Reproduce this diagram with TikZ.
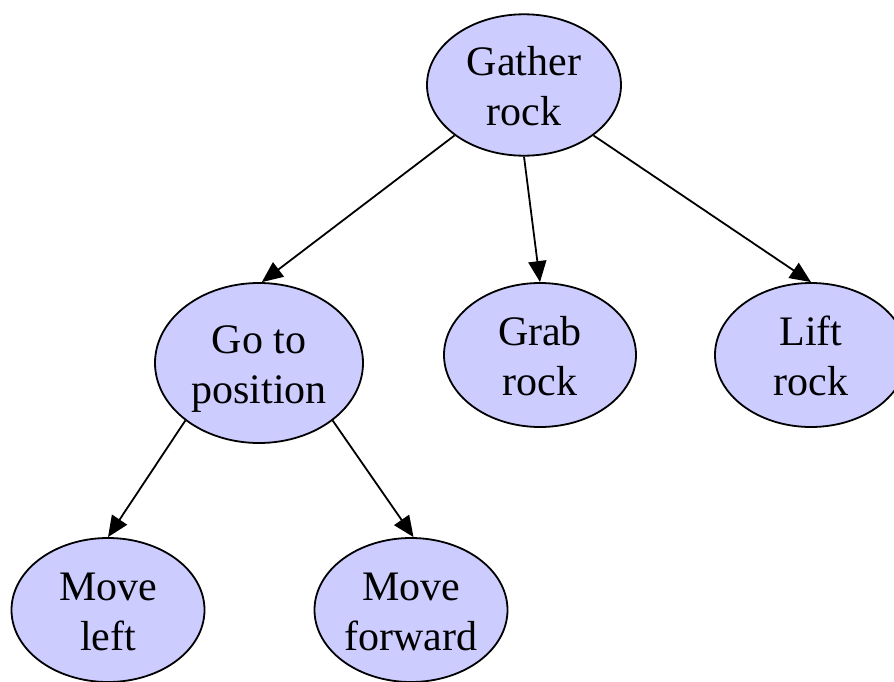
\documentclass[tikz,border=0pt]{standalone}
\usepackage{fontspec}
\setmainfont{Liberation Serif}
\usetikzlibrary{shapes.geometric,arrows.meta}
\definecolor{nodefill}{RGB}{204,204,255}
\newcommand\tstrut{\rule[-10pt]{0pt}{50pt}}
\begin{document}
\begin{tikzpicture}[x=1pt,y=-1pt,
  tnode/.style={ellipse, draw=black, line width=1.8pt, fill=nodefill, inner sep=0pt,
    align=center, font=\fontsize{42}{50}\selectfont},
  edge/.style={line width=1.8pt, -{Triangle[length=21pt,width=18pt]}}]
\useasboundingbox (0,0) rectangle (894,682);
\node[tnode, minimum width=194pt, minimum height=138pt] (gather) at (524,85) {\tstrut Gather\\\tstrut rock};
\node[tnode, minimum width=208pt, minimum height=160pt] (goto) at (259,363) {\tstrut Go to\\\tstrut position};
\node[tnode, minimum width=192pt, minimum height=144pt] (grab) at (540,355) {\tstrut Grab\\\tstrut rock};
\node[tnode, minimum width=192pt, minimum height=144pt] (lift) at (811,355) {\tstrut Lift\\\tstrut rock};
\node[tnode, minimum width=193pt, minimum height=144pt] (mleft) at (108,610) {\tstrut Move\\\tstrut left};
\node[tnode, minimum width=193pt, minimum height=144pt] (mfwd) at (411,610) {\tstrut Move\\\tstrut forward};
\draw[edge] (gather.216) -- (goto.88);
\draw[edge] (gather.270) -- (grab.90);
\draw[edge] (gather.324) -- (lift.90);
\draw[edge] (goto.218) -- (mleft.90);
\draw[edge] (goto.322) -- (mfwd.88);
\end{tikzpicture}
\end{document}
